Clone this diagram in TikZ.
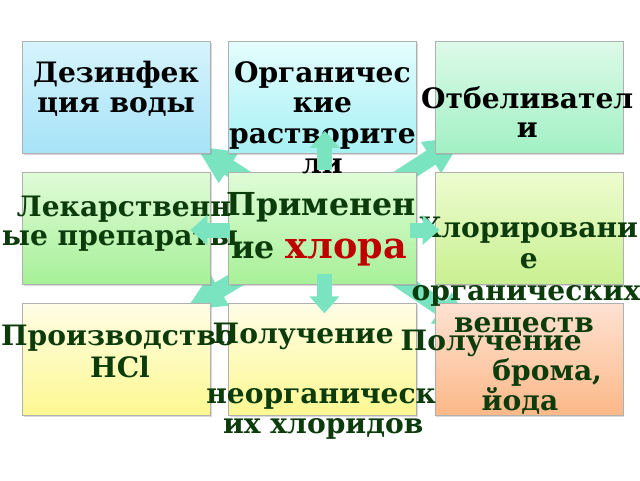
\documentclass[tikz,border=0pt]{standalone}
\usepackage{fontspec}
\newfontfamily\boxfont{DejaVu Serif}
\usetikzlibrary{arrows.meta,shadows,backgrounds}
\definecolor{arrowmint}{RGB}{122,228,192}
\definecolor{txtgreen}{RGB}{12,60,12}
\definecolor{txtred}{RGB}{192,0,0}
\tikzset{
  box/.style={draw={rgb,255:red,176;green,176;blue,176}, line width=0.4pt,
    minimum width=4.7cm, minimum height=2.8cm, inner sep=0pt,
    drop shadow={shadow xshift=1.2pt, shadow yshift=-1.2pt, opacity=0.3, fill=gray}},
  txt/.style={anchor=base, inner sep=0pt, text=txtgreen,
    font=\boxfont\bfseries\fontsize{20}{22}\selectfont},
  bigtxt/.style={txt, font=\boxfont\bfseries\fontsize{22.5}{25}\selectfont},
  flatarrow/.style={arrowmint, line width=0.375cm,
    -{Triangle[width=0.725cm, length=0.425cm]}},
  diagarrow/.style={arrowmint, line width=0.42cm,
    -{Triangle[width=0.85cm, length=1cm]}}
}
\begin{document}
\begin{tikzpicture}
          \useasboundingbox (0,0) rectangle (16,12);

          \node[box, top color={rgb,255:red,214;green,244;blue,252}, bottom color={rgb,255:red,166;green,226;blue,248}] (b1) at (2.9,9.56) {};
          \node[box, top color={rgb,255:red,228;green,253;blue,254}, bottom color={rgb,255:red,166;green,240;blue,244}] (b2) at (8.06,9.56) {};
          \node[box, top color={rgb,255:red,220;green,250;blue,232}, bottom color={rgb,255:red,162;green,240;blue,196}] (b3) at (13.22,9.56) {};
          \node[box, top color={rgb,255:red,224;green,251;blue,216}, bottom color={rgb,255:red,166;green,240;blue,152}] (b4) at (2.9,6.3) {};
          \node[box, top color={rgb,255:red,223;green,252;blue,216}, bottom color={rgb,255:red,168;green,240;blue,152}] (c) at (8.06,6.3) {};
          \node[box, top color={rgb,255:red,238;green,252;blue,208}, bottom color={rgb,255:red,200;green,240;blue,144}] (b6) at (13.22,6.3) {};
          \node[box, top color={rgb,255:red,255;green,253;blue,230}, bottom color={rgb,255:red,253;green,248;blue,144}] (b7) at (2.9,3.01) {};
          \node[box, top color={rgb,255:red,255;green,253;blue,230}, bottom color={rgb,255:red,253;green,248;blue,144}] (b8) at (8.06,3.01) {};
          \node[box, top color={rgb,255:red,253;green,226;blue,210}, bottom color={rgb,255:red,252;green,184;blue,136}] (b9) at (13.22,3.01) {};

          \begin{scope}[on background layer]
          \draw[diagarrow] (c.center) -- ([shift={(-0.375,0.2)}]b1.south east);
          \draw[diagarrow] (c.center) -- ([shift={(0.75,0.45)}]b3.south west);
          \draw[diagarrow] (c.center) -- ([shift={(-0.625,-0.175)}]b7.north east);
          \draw[diagarrow] (c.center) -- ([shift={(1.0,-0.675)}]b9.north west);
          \end{scope}

          \node[txt, text=black] (t1a) at (2.9,9.925) {Дезинфек};
          \node[txt, text=black] (t1b) at (2.9,9.175) {ция воды};
          \node[txt, text=black] (t2a) at (8.06,9.925) {Органичес};
          \node[txt, text=black] (t2b) at (8.06,9.175) {кие};
          \node[txt, text=black] (t2c) at (8.06,8.425) {растворите};
          \node[txt, text=black] (t2d) at (8.06,7.675) {ли};
          \node[txt, text=black] (t3a) at (13.18,9.3) {Отбеливател};
          \node[txt, text=black] (t3b) at (13.18,8.575) {и};

          \node[txt] (t4a) at (3.1,6.6) {Лекарственн};
          \node[txt] (t4b) at (3.0,5.875) {ые препараты};
          \node[bigtxt] (t5a) at (8.03,6.625) {Применен};
          \node[bigtxt] (t5b) at (7.98,5.55) {ие {\fontsize{26}{28}\selectfont\textcolor{txtred}{хлора}}};
          \node[txt] (t6a) at (13.22,6.075) {Хлорировани};
          \node[txt] (t6b) at (13.22,5.3) {е};
          \node[txt] (t6c) at (13.15,4.5) {органических};
          \node[txt] (t6d) at (13.1,3.7) {веществ};

          \node[txt] (t7a) at (2.95,3.375) {Производство};
          \node[txt] (t7b) at (3.0,2.575) {HCl};
          \node[txt] (t8a) at (7.58,3.425) {Получение};
          \node[txt] (t8b) at (8.03,1.925) {неорганическ};
          \node[txt] (t8c) at (8.08,1.175) {их хлоридов};
          \node[txt] (t9a) at (12.28,3.25) {Получение};
          \node[txt] (t9b) at (13.68,2.5) {брома,};
          \node[txt] (t9c) at (13.0,1.75) {йода};

          \draw[flatarrow] ([shift={(0.06,0.05)}]c.north) -- ([shift={(0.06,0.575)}]b2.south);
          \draw[flatarrow] ([shift={(0.05,0.25)}]c.south) -- ([shift={(0.05,-0.25)}]b8.north);
          \draw[flatarrow] ([shift={(0.05,-0.05)}]c.west) -- ([shift={(-0.5,-0.05)}]b4.east);
          \draw[flatarrow] ([shift={(-0.175,-0.05)}]c.east) -- ([shift={(0.125,-0.05)}]b6.west);
\end{tikzpicture}
\end{document}
